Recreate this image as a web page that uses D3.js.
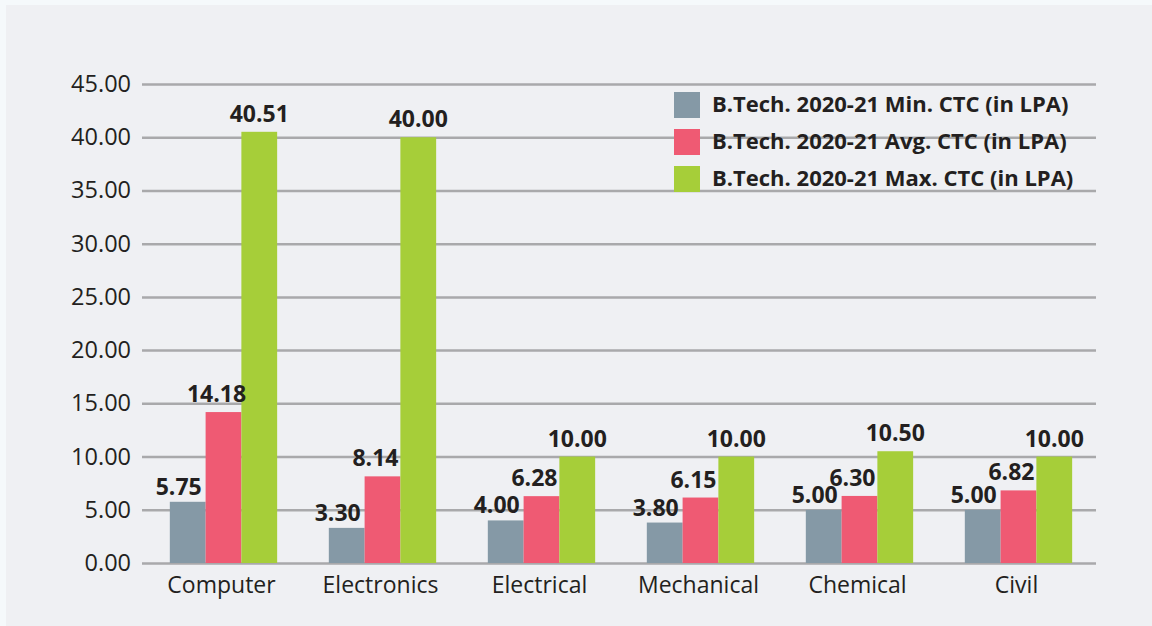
<!DOCTYPE html>
<html>
<head>
<meta charset="utf-8">
<script src="https://cdn.jsdelivr.net/npm/d3@7"></script>
<style>
  html, body { margin: 0; padding: 0; background: #f5f9fb; }
  svg { display: block; }
</style>
</head>
<body>
<svg id="chart" width="1152" height="626"></svg>
<script>
const categories = ["Computer", "Electronics", "Electrical", "Mechanical", "Chemical", "Civil"];
const seriesNames = [
  "B.Tech. 2020-21 Min. CTC (in LPA)",
  "B.Tech. 2020-21 Avg. CTC (in LPA)",
  "B.Tech. 2020-21 Max. CTC (in LPA)"
];
const minCTC = [5.75, 3.30, 4.00, 3.80, 5.00, 5.00];
const avgCTC = [14.18, 8.14, 6.28, 6.15, 6.30, 6.82];
const maxCTC = [40.51, 40.00, 10.00, 10.00, 10.50, 10.00];
const yTicks = [0, 5, 10, 15, 20, 25, 30, 35, 40, 45];
const colors = ["#8599a6", "#ef5a73", "#a6ce39"];

const seriesValues = [minCTC, avgCTC, maxCTC];
const rows = categories.map((c, i) => ({
  cat: c,
  vals: seriesNames.map((s, k) => ({ key: s, k: k, v: seriesValues[k][i] }))
}));

const svg = d3.select("#chart");
const font = "'Open Sans', sans-serif";

// panel
svg.append("rect")
  .attr("x", 6).attr("y", 5)
  .attr("width", 1146).attr("height", 621)
  .attr("fill", "#eff0f3");

const plotL = 142, plotR = 1096, plotT = 84, plotB = 563;

const y = d3.scaleLinear().domain([0, 45]).range([plotB, plotT]);
const x0 = d3.scaleBand().domain(categories).range([plotL, plotR]).padding(0);
const bw = x0.bandwidth();
const x1 = d3.scaleBand().domain(seriesNames).range([bw * 0.175, bw * 0.85]).padding(0);

// grid + y axis
const yAxis = svg.append("g")
  .attr("transform", `translate(${plotL},0)`)
  .call(d3.axisLeft(y).tickValues(yTicks).tickFormat(d3.format(".2f")).tickSize(-(plotR - plotL)).tickPadding(11));
yAxis.select(".domain").remove();
yAxis.selectAll(".tick line").attr("stroke", "#a9a9ab").attr("stroke-width", 2.5);
yAxis.selectAll(".tick text")
  .attr("fill", "#231f20")
  .attr("font-size", "23.5px")
  .attr("font-family", font);

// x labels
svg.append("g")
  .selectAll("text")
  .data(categories)
  .enter().append("text")
  .attr("x", d => x0(d) + bw / 2)
  .attr("y", 593)
  .attr("text-anchor", "middle")
  .attr("fill", "#231f20")
  .attr("font-size", "23px")
  .attr("font-family", font)
  .text(d => d);

// legend
const lg = svg.append("g")
  .selectAll("g")
  .data(seriesNames)
  .enter().append("g")
  .attr("transform", (d, i) => `translate(674,${92 + i * 37})`);
lg.append("rect")
  .attr("width", 26).attr("height", 26)
  .attr("fill", (d, i) => colors[i]);
lg.append("text")
  .attr("x", 38).attr("y", 20)
  .attr("fill", "#231f20")
  .attr("font-size", "22px")
  .attr("font-weight", "700")
  .attr("font-family", font)
  .text(d => d);

// bars
const groups = svg.append("g")
  .selectAll("g")
  .data(rows)
  .enter().append("g")
  .attr("transform", d => `translate(${x0(d.cat)},0)`);

groups.selectAll("rect")
  .data(d => d.vals)
  .enter().append("rect")
  .attr("x", d => x1(d.key))
  .attr("y", d => y(d.v))
  .attr("width", x1.bandwidth())
  .attr("height", d => plotB - y(d.v))
  .attr("fill", d => colors[d.k]);

// value labels
const dxs = [-9, -7, 0];
const gaps = [7, 10, 10];
groups.selectAll("text.val")
  .data(d => d.vals)
  .enter().append("text")
  .attr("class", "val")
  .attr("x", d => x1(d.key) + x1.bandwidth() / 2 + dxs[d.k])
  .attr("y", d => y(d.v) - gaps[d.k])
  .attr("text-anchor", "middle")
  .attr("fill", "#231f20")
  .attr("font-size", "23px")
  .attr("font-weight", "700")
  .attr("font-family", font)
  .text(d => d3.format(".2f")(d.v));
</script>
</body>
</html>
